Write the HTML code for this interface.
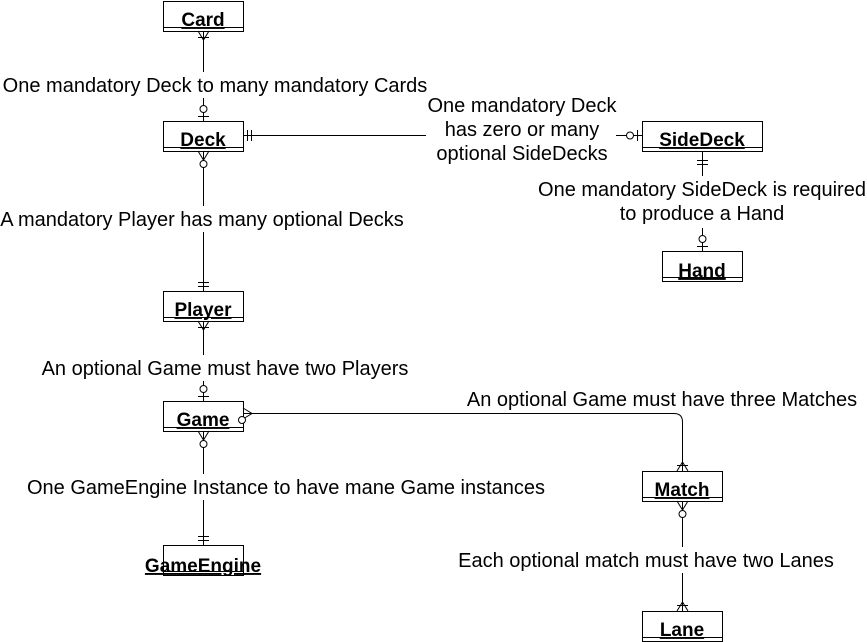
<!DOCTYPE html>
<html><head><meta charset="utf-8"><style>
html,body{margin:0;padding:0;background:#fff;}
svg{display:block;}
text{font-family:"Liberation Sans",Arial,sans-serif;}
.lbl{font-size:20px;fill:#000;}
.ent{font-size:19px;font-weight:bold;text-decoration:underline;fill:#000;}
</style></head><body>
<svg width="867" height="642" viewBox="0 0 867 642" xmlns="http://www.w3.org/2000/svg">
<g fill="#fff" stroke="#000" stroke-width="1">
<rect x="163.5" y="1.5" width="80" height="30"/><line x1="163.5" y1="27.5" x2="243.5" y2="27.5"/>
<rect x="163.5" y="121.5" width="80" height="30"/><line x1="163.5" y1="147.5" x2="243.5" y2="147.5"/>
<rect x="163.5" y="291.5" width="80" height="30"/><line x1="163.5" y1="317.5" x2="243.5" y2="317.5"/>
<rect x="163.5" y="401.5" width="80" height="30"/><line x1="163.5" y1="427.5" x2="243.5" y2="427.5"/>
<rect x="163.5" y="545.5" width="80" height="30"/><line x1="163.5" y1="571.5" x2="243.5" y2="571.5"/>
<rect x="642.5" y="121.5" width="120" height="30"/><line x1="642.5" y1="147.5" x2="762.5" y2="147.5"/>
<rect x="662.5" y="251.5" width="80" height="30"/><line x1="662.5" y1="277.5" x2="742.5" y2="277.5"/>
<rect x="642.5" y="471.5" width="80" height="30"/><line x1="642.5" y1="497.5" x2="722.5" y2="497.5"/>
<rect x="642.5" y="611.5" width="80" height="30"/><line x1="642.5" y1="637.5" x2="722.5" y2="637.5"/>
</g>
<g fill="none" stroke="#000" stroke-width="1">
<line x1="203.5" y1="31" x2="203.5" y2="121"/>
<path d="M198 31 L203.5 40 L209 31 M198 37.5 H209"/>
<circle cx="203.5" cy="109" r="3.5" fill="#fff"/><path d="M198 116.5 H209"/>
<line x1="203.5" y1="151" x2="203.5" y2="291"/>
<path d="M198 151 L203.5 160 L209 151"/><circle cx="203.5" cy="164" r="3.5" fill="#fff"/>
<path d="M198 282.5 H209 M198 286.5 H209"/>
<line x1="203.5" y1="321" x2="203.5" y2="401"/>
<path d="M198 321 L203.5 330 L209 321 M198 327.5 H209"/>
<circle cx="203.5" cy="389" r="3.5" fill="#fff"/><path d="M198 396.5 H209"/>
<line x1="203.5" y1="431" x2="203.5" y2="545"/>
<path d="M198 431 L203.5 440 L209 431"/><circle cx="203.5" cy="444" r="3.5" fill="#fff"/>
<path d="M198 536.5 H209 M198 540.5 H209"/>
<line x1="243" y1="135.5" x2="642" y2="135.5"/>
<path d="M247.5 130 V141 M251.5 130 V141"/>
<circle cx="630" cy="135.5" r="3.5" fill="#fff"/><path d="M637.5 130 V141"/>
<line x1="702.5" y1="151" x2="702.5" y2="251"/>
<path d="M697 160.5 H708 M697 164.5 H708"/>
<circle cx="702.5" cy="239" r="3.5" fill="#fff"/><path d="M697 246.5 H708"/>
<path d="M243 413.5 H674 Q682.5 413.5 682.5 422 V471"/>
<path d="M243 408 L252 413.5 L243 419"/><circle cx="242" cy="420" r="3.5" fill="#fff"/>
<path d="M677 471 L682.5 462 L688 471 M677 465.5 H688"/>
<line x1="682.5" y1="501" x2="682.5" y2="611"/>
<path d="M677 501 L682.5 510 L688 501"/><circle cx="682.5" cy="514" r="3.5" fill="#fff"/>
<path d="M677 611 L682.5 602 L688 611 M677 605.5 H688"/>
</g>
<g>
<text class="ent" x="203" y="26" text-anchor="middle">Card</text>
<text class="ent" x="203" y="146" text-anchor="middle">Deck</text>
<text class="ent" x="203" y="316" text-anchor="middle">Player</text>
<text class="ent" x="203" y="426" text-anchor="middle">Game</text>
<text class="ent" x="203" y="572" text-anchor="middle">GameEngine</text>
<text class="ent" x="702" y="146" text-anchor="middle">SideDeck</text>
<text class="ent" x="702" y="277" text-anchor="middle">Hand</text>
<text class="ent" x="682" y="496" text-anchor="middle">Match</text>
<text class="ent" x="682" y="636" text-anchor="middle">Lane</text>
</g>
<g fill="#fff">
<rect x="0" y="72" width="434" height="26"/>
<rect x="0" y="206" width="410" height="26"/>
<rect x="36" y="355" width="380" height="26"/>
<rect x="20" y="474" width="532" height="26"/>
<rect x="426" y="92" width="190" height="74"/>
<rect x="536" y="176" width="334" height="52"/>
<rect x="462" y="387" width="400" height="24"/>
<rect x="452" y="547" width="390" height="26"/>
</g>
<g class="lbl">
<text class="lbl" x="215" y="92" text-anchor="middle">One mandatory Deck to many mandatory Cards</text>
<text class="lbl" x="202" y="226" text-anchor="middle">A mandatory Player has many optional Decks</text>
<text class="lbl" x="225" y="375" text-anchor="middle">An optional Game must have two Players</text>
<text class="lbl" x="286" y="494" text-anchor="middle">One GameEngine Instance to have mane Game instances</text>
<text class="lbl" x="522" y="112" text-anchor="middle">One mandatory Deck</text>
<text class="lbl" x="522" y="136" text-anchor="middle">has zero or many</text>
<text class="lbl" x="522" y="160" text-anchor="middle">optional SideDecks</text>
<text class="lbl" x="702" y="196" text-anchor="middle">One mandatory SideDeck is required</text>
<text class="lbl" x="702" y="220" text-anchor="middle">to produce a Hand</text>
<text class="lbl" x="662" y="406" text-anchor="middle">An optional Game must have three Matches</text>
<text class="lbl" x="646" y="567" text-anchor="middle">Each optional match  must have two Lanes</text>
</g>
</svg>
</body></html>
